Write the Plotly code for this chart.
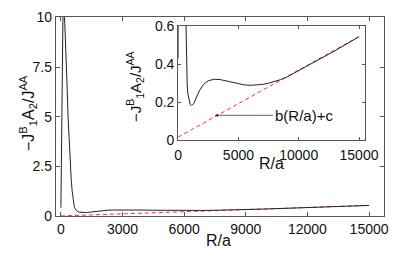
import plotly.graph_objects as go

# ---- data ----
R_vals = [0, 20, 40, 60, 80, 100, 130, 160, 190, 220, 260, 300, 350, 400, 450,
          500, 550, 600, 650, 700, 750, 800, 900, 1000, 1100, 1200, 1300, 1500,
          1750, 2000, 2250, 2500, 2750, 3000, 3500, 4000, 4500, 5000, 5500, 6000,
          6500, 7000, 7500, 8000, 8500, 9000, 10000, 11000, 12000, 13000, 14000, 15000]
J_vals = [0.43, 2.5, 5.0, 7.5, 9.3, 10.0, 10.3, 10.2, 9.7, 9.0, 7.9, 6.6, 5.0, 3.7, 2.7,
          1.9, 1.25, 0.78, 0.5, 0.36, 0.29, 0.245, 0.205, 0.186, 0.182, 0.185, 0.193,
          0.222, 0.258, 0.284, 0.301, 0.312, 0.318, 0.32, 0.318, 0.311, 0.302, 0.295,
          0.29, 0.288, 0.289, 0.293, 0.299, 0.307, 0.318, 0.331, 0.365, 0.40, 0.435,
          0.47, 0.507, 0.544]
fit_R = [0, 15000]
fit_vals = [0.015, 0.545]

main_xticks = [0, 3000, 6000, 9000, 12000, 15000]
main_xtext = ["0", "3000", "6000", "9000", "12000", "15000"]
main_yticks = [0, 2.5, 5, 7.5, 10]
main_ytext = ["0", "2.5", "5", "7.5", "10"]
inset_xticks = [0, 5000, 10000, 15000]
inset_xtext = ["0", "5000", "10000", "15000"]
inset_yticks = [0, 0.2, 0.4, 0.6]
inset_ytext = ["0", "0.2", "0.4", "0.6"]

W, H = 409, 258
FONT = "Liberation Sans, Arial, sans-serif"
AX = "#555555"
CURVE = "#222222"
RED = "#ff2a2a"


def px(x):
    return x / W


def py(y):
    return (H - y) / H


fig = go.Figure()

# main plot
fig.add_trace(go.Scatter(x=fit_R, y=fit_vals, mode="lines",
                         line=dict(color=RED, width=1, dash="4px,3px"),
                         xaxis="x", yaxis="y", showlegend=False))
fig.add_trace(go.Scatter(x=R_vals, y=J_vals, mode="lines",
                         line=dict(color=CURVE, width=1),
                         xaxis="x", yaxis="y", showlegend=False))
# inset
fig.add_trace(go.Scatter(x=fit_R, y=fit_vals, mode="lines",
                         line=dict(color=RED, width=1, dash="4px,3px"),
                         xaxis="x2", yaxis="y2", showlegend=False))
fig.add_trace(go.Scatter(x=R_vals, y=J_vals, mode="lines",
                         line=dict(color=CURVE, width=1),
                         xaxis="x2", yaxis="y2", showlegend=False))

axis_common = dict(showgrid=False, zeroline=False, showline=True, linecolor=AX,
                   linewidth=1, mirror="ticks", ticks="inside", tickcolor=AX,
                   tickwidth=1, tickfont=dict(family=FONT, size=14, color="#111"))

fig.update_layout(
    width=W, height=H, autosize=False,
    margin=dict(l=0, r=0, t=0, b=0),
    paper_bgcolor="white", plot_bgcolor="white",
    xaxis=dict(domain=[px(54), px(397)], range=[-250, 15750],
               tickvals=main_xticks, ticktext=main_xtext, ticklen=4,
               anchor="y", **axis_common),
    yaxis=dict(domain=[py(222), py(9.5)], range=[0, 10.03],
               tickvals=main_yticks, ticktext=main_ytext, ticklen=4,
               anchor="x", **axis_common),
    xaxis2=dict(domain=[px(181.7), px(376.7)], range=[0, 15500],
                tickvals=inset_xticks, ticktext=inset_xtext, ticklen=3,
                ticklabelstandoff=2, anchor="y2", **axis_common),
    yaxis2=dict(domain=[py(140.7), py(19.3)], range=[0, 0.6],
                tickvals=inset_yticks, ticktext=inset_ytext, ticklen=3,
                anchor="x2", **axis_common),
)

title_y = "\u2212J<sup>B</sup><sub>1</sub>A<sub>2</sub>/J<sup>AA</sup>"
ann = [
    dict(text=title_y, x=px(25), y=py(112), xref="paper", yref="paper",
         textangle=-90, showarrow=False, xanchor="center", yanchor="middle",
         font=dict(family=FONT, size=16, color="#111")),
    dict(text=title_y, x=px(137), y=py(84), xref="paper", yref="paper",
         textangle=-90, showarrow=False, xanchor="center", yanchor="middle",
         font=dict(family=FONT, size=15, color="#111")),
    dict(text="R/a", x=px(224), y=py(248), xref="paper", yref="paper",
         showarrow=False, xanchor="center", yanchor="middle",
         font=dict(family=FONT, size=16, color="#111")),
    dict(text="R/a", x=px(279), y=py(166), xref="paper", yref="paper",
         showarrow=False, xanchor="center", yanchor="middle",
         font=dict(family=FONT, size=16, color="#111")),
    dict(text="b(R/a)+c", x=3040, y=0.13, xref="x2", yref="y2",
         ax=10400, ay=0.13, axref="x2", ayref="y2",
         showarrow=True, arrowhead=2, arrowsize=0.8, arrowwidth=0.8,
         arrowcolor="#333", standoff=0,
         font=dict(family=FONT, size=15, color="#111")),
]
fig.update_layout(annotations=ann)

fig.write_html("out.html", config={"displayModeBar": False},
               post_script="document.documentElement.style.margin='0';document.body.style.margin='0';document.body.style.overflow='hidden';")
